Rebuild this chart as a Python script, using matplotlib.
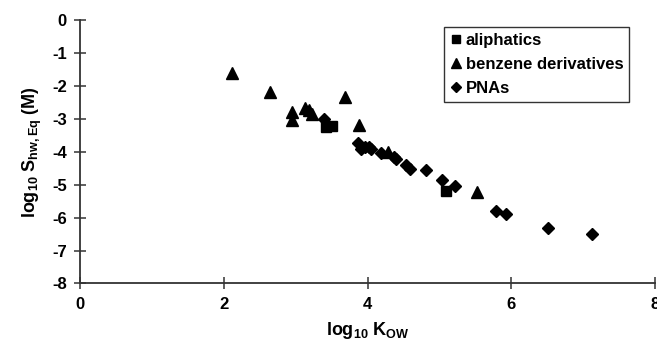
import matplotlib.pyplot as plt

plt.rcParams['font.family'] = ['Liberation Sans', 'DejaVu Sans']
plt.rcParams['font.weight'] = 'bold'
plt.rcParams['axes.unicode_minus'] = False
plt.rcParams['mathtext.fontset'] = 'custom'
plt.rcParams['mathtext.rm'] = 'Liberation Sans:bold'
plt.rcParams['mathtext.bf'] = 'Liberation Sans:bold'
plt.rcParams['mathtext.it'] = 'Liberation Sans:bold'
plt.rcParams['mathtext.default'] = 'bf'

# aliphatics
ali_x = [3.42, 3.51, 5.09]
ali_y = [-3.24, -3.21, -5.19]

# benzene derivatives
benz_x = [2.11, 2.64, 2.95, 2.95, 3.13, 3.19, 3.22, 3.69, 3.88, 4.29, 5.52]
benz_y = [-1.62, -2.18, -2.79, -3.02, -2.68, -2.72, -2.85, -2.33, -3.19, -4.0, -5.22]

# PNAs
pna_x = [3.39, 3.86, 3.91, 3.96, 4.02, 4.05, 4.19, 4.37, 4.40, 4.53, 4.59,
         4.81, 5.04, 5.22, 5.79, 5.92, 6.51, 7.12]
pna_y = [-2.99, -3.72, -3.9, -3.85, -3.85, -3.9, -4.03, -4.15, -4.22, -4.41, -4.53,
         -4.56, -4.87, -5.05, -5.80, -5.88, -6.31, -6.51]

fig = plt.figure(figsize=(6.57, 3.47), dpi=100)
ax = fig.add_axes([0.122, 0.183, 0.875, 0.759])

ax.plot(ali_x, ali_y, 's', color='black', markersize=7, label='aliphatics')
ax.plot(benz_x, benz_y, '^', color='black', markersize=8.5, label='benzene derivatives')
ax.plot(pna_x, pna_y, 'D', color='black', markersize=6.5, label='PNAs')

ax.set_xlim(0, 8)
ax.set_ylim(-8, 0)
ax.set_xticks([0, 2, 4, 6, 8])
ax.set_yticks(range(-8, 1))
ax.spines['top'].set_visible(False)
ax.spines['right'].set_visible(False)
for s in ['left', 'bottom']:
    ax.spines[s].set_linewidth(1.3)
    ax.spines[s].set_color('#333333')
ax.tick_params(direction='inout', length=9, width=1.1, color='#333333',
               labelsize=12, pad=5)
for lab in ax.get_xticklabels() + ax.get_yticklabels():
    lab.set_fontweight('bold')

ax.set_xlabel(r'log$_{10}$ K$_{OW}$', fontsize=13, fontweight='bold', labelpad=6)
ax.set_ylabel(r'log$_{10}$ S$_{hw,Eq}$ (M)', fontsize=13, fontweight='bold', labelpad=6)

leg = ax.legend(loc='upper right', bbox_to_anchor=(0.955, 0.975), frameon=True,
                fancybox=False, edgecolor='black', fontsize=12, handlelength=0.7,
                handletextpad=0.25, borderpad=0.35, labelspacing=0.55, borderaxespad=0,
                markerscale=0.85)
leg.get_frame().set_linewidth(1.0)
for t in leg.get_texts():
    t.set_fontweight('bold')

fig.savefig('out.png', dpi=100)
